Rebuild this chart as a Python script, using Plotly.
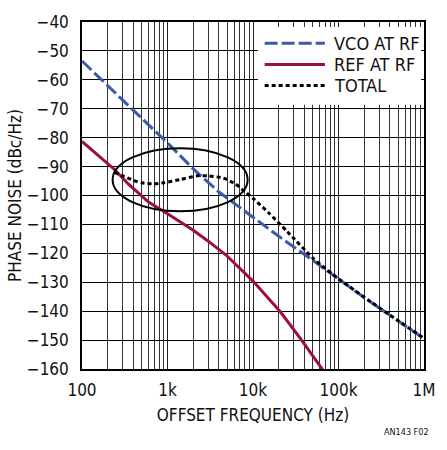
import plotly.graph_objects as go

# ---- data ----
vco_freq = [100, 200, 400, 1000, 2000, 4000, 10000, 20000, 50000, 100000, 200000, 500000, 1000000]
vco_dbc = [-53.5, -62, -70.5, -81.8, -90.8, -98.8, -107.5, -114.1, -122.4, -129.0, -135.3, -143.4, -149.5]

ref_freq = [100, 240, 350, 600, 1000, 1600, 2000, 3000, 4800, 10000, 21000, 37000, 68000]
ref_dbc = [-81.3, -91.0, -96.1, -102.3, -106.3, -110.0, -112.0, -115.8, -120.5, -129.6, -140.3, -150.0, -161.0]

total_freq = [240, 300, 400, 500, 680, 900, 1400, 2200, 3000, 4500, 6200, 8000, 10000, 15000,
              25000, 50000, 85000, 200000, 500000, 1000000]
total_dbc = [-92.0, -93.2, -94.8, -95.6, -96.0, -95.6, -94.5, -93.2, -93.2, -94.0, -96.0, -98.6,
             -101.0, -105.8, -112.4, -121.6, -127.2, -135.2, -143.3, -149.4]

series_names = ["VCO AT RF", "REF AT RF", "TOTAL"]
x_tickvals = [100, 1000, 10000, 100000, 1000000]
x_ticktext = ["100", "1k", "10k", "100k", "1M"]
x_minorvals = [m * 10 ** d for d in range(2, 6) for m in range(2, 10)]
y_tickvals = list(range(-160, -39, 10))

BLUE = "#3A5BA8"
RED = "#9E0F3B"
FONT = "Liberation Sans Narrow, DejaVu Sans Condensed, Arial Narrow, sans-serif"

fig = go.Figure()
fig.add_trace(go.Scatter(x=ref_freq, y=ref_dbc, mode="lines", name=series_names[1],
                         line=dict(color=RED, width=3)))
fig.add_trace(go.Scatter(x=vco_freq, y=vco_dbc, mode="lines", name=series_names[0],
                         line=dict(color=BLUE, width=3, dash="13px,4px")))
fig.add_trace(go.Scatter(x=total_freq, y=total_dbc, mode="lines", name=series_names[2],
                         line=dict(color="black", width=3, dash="4px,3px", shape="spline",
                                   smoothing=0.6)))

# plot area geometry (paper coords helper)
L, T, W, H = 82, 17, 352, 352


def px(xp):
    return (xp - L) / W


def py(yp):
    return (T + H - yp) / H


shapes = [
    # highlighted ellipse
    dict(type="circle", xref="paper", yref="paper", x0=px(113.5), x1=px(252.5),
         y0=py(209), y1=py(145), line=dict(color="black", width=2), layer="above"),
    # legend background
    dict(type="rect", xref="paper", yref="paper", x0=px(263), x1=px(431), y0=py(101), y1=py(22),
         fillcolor="white", line=dict(width=0), layer="above"),
]
legend_rows = [38.5, 60, 81.5]
legend_styles = [dict(color=BLUE, width=3, dash="13px,4px"),
                 dict(color=RED, width=3),
                 dict(color="black", width=3, dash="4px,3px")]
annotations = []
for name, yrow, st in zip(series_names, legend_rows, legend_styles):
    shapes.append(dict(type="line", xref="paper", yref="paper", x0=px(270), x1=px(332),
                       y0=py(yrow), y1=py(yrow), line=st, layer="above"))
    annotations.append(dict(text=name, xref="paper", yref="paper", x=px(339), y=py(yrow),
                            xanchor="left", yanchor="middle", showarrow=False,
                            font=dict(family=FONT, size=18, color="#111")))

annotations.append(dict(text="AN143 F02", xref="paper", yref="paper", x=px(441), y=py(433),
                        xanchor="right", yanchor="middle", showarrow=False,
                        font=dict(family=FONT, size=9, color="#111")))

fig.update_layout(
    width=447, height=450,
    margin=dict(l=L, r=447 - L - W, t=T, b=450 - T - H),
    paper_bgcolor="white", plot_bgcolor="white",
    showlegend=False,
    font=dict(family=FONT, size=17, color="#111"),
    shapes=shapes, annotations=annotations,
)
fig.update_xaxes(
    type="log", range=[2, 6], tickvals=x_tickvals, ticktext=x_ticktext,
    showgrid=True, gridcolor="#222", gridwidth=1,
    minor=dict(tickvals=x_minorvals, showgrid=True, gridcolor="#333", gridwidth=1),
    showline=True, linecolor="black", linewidth=1.5, mirror=True,
    ticks="", ticklabelstandoff=5, zeroline=False,
    title=dict(text="OFFSET FREQUENCY (Hz)", standoff=10, font=dict(size=17)),
)
fig.update_yaxes(
    range=[-160, -40], tickvals=y_tickvals,
    showgrid=True, gridcolor="black", gridwidth=1,
    showline=True, linecolor="black", linewidth=1.5, mirror=True,
    ticks="", ticklabelstandoff=8, zeroline=False,
    title=dict(text="PHASE NOISE (dBc/Hz)", standoff=1, font=dict(size=17)),
)

fig.write_html("out.html")
